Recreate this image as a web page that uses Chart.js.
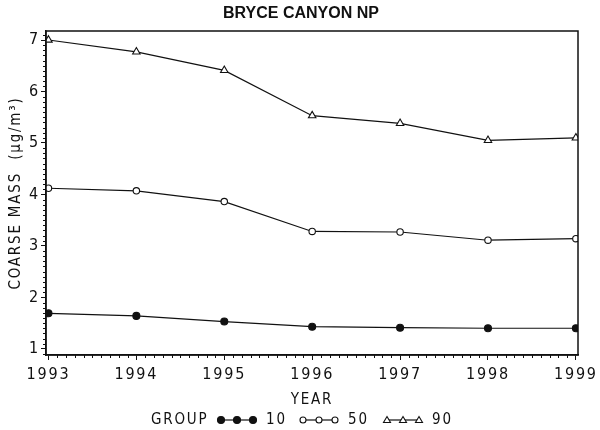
<!DOCTYPE html>
<html><head><meta charset="utf-8">
<script src="https://cdn.jsdelivr.net/npm/chart.js@4"></script>
<style>html,body{margin:0;padding:0;background:#fff}#wrap{width:600px;height:430px;position:relative}</style>
</head><body><div id="wrap"><canvas id="c"></canvas></div>
<script>
const years = [1993, 1994, 1995, 1996, 1997, 1998, 1999];
const group10 = [1.69, 1.64, 1.53, 1.43, 1.41, 1.40, 1.40];
const group50 = [4.12, 4.07, 3.86, 3.28, 3.27, 3.11, 3.14];
const group90 = [7.00, 6.77, 6.41, 5.53, 5.38, 5.05, 5.10];
const yTicks = [1, 2, 3, 4, 5, 6, 7];
const titleText = 'BRYCE CANYON NP';
const xTitle = 'YEAR';
const yTitle = 'COARSE MASS  (µg/m³)';
const legendTitle = 'GROUP';
const groupLabels = ['10', '50', '90'];

const FAM = "'DejaVu Sans Condensed', 'Liberation Sans Narrow', sans-serif";
const INK = '#111';
const SP = '1.8px';

const pts = arr => years.map((y, i) => ({x: y, y: arr[i]}));
const styles = [
  {style: 'circle', fill: INK, r: 3.5},
  {style: 'circle', fill: '#fff', r: 3.2},
  {style: 'triangle', fill: '#fff', r: 4.3}
];
const datasets = [group10, group50, group90].map((arr, i) => ({
  label: groupLabels[i],
  data: pts(arr),
  borderColor: INK,
  borderWidth: 1.2,
  pointStyle: styles[i].style,
  pointRadius: styles[i].r,
  pointBackgroundColor: styles[i].fill,
  pointBorderColor: INK,
  pointBorderWidth: 1.1,
  tension: 0
}));

const spacingPlugin = {
  id: 'spacing',
  beforeDraw(chart) { chart.ctx.letterSpacing = SP; },
  afterDraw(chart) {
    const ctx = chart.ctx;
    const a = chart.chartArea;
    const xs = chart.scales.x, ys = chart.scales.y;
    ctx.save();
    ctx.letterSpacing = '0px';
    ctx.strokeStyle = INK; ctx.lineWidth = 1.5;
    ctx.strokeRect(a.left, a.top, a.right - a.left, a.bottom - a.top);
    ctx.lineWidth = 1;
    ctx.beginPath();
    for (let yr = years[0]; yr < years[years.length - 1]; yr++) {
      for (let k = 1; k < 10; k++) {
        const px = Math.round(xs.getPixelForValue(yr + k / 10)) + 0.5;
        ctx.moveTo(px, a.bottom); ctx.lineTo(px, a.bottom + 3);
      }
    }
    for (let r = 9; r <= 71; r++) {
      if (r % 10 === 0) continue;
      const py = ys.getPixelForValue(r / 10);
      if (py > a.bottom || py < a.top) continue;
      const p = Math.round(py) + 0.5;
      ctx.moveTo(a.left, p); ctx.lineTo(a.left - 3, p);
    }
    ctx.stroke();
    ctx.fillStyle = INK;
    ctx.font = "bold 16px 'Liberation Sans', Arial, sans-serif";
    ctx.textAlign = 'center'; ctx.textBaseline = 'middle';
    ctx.fillText(titleText, 301, 14);
    ctx.letterSpacing = SP;
    ctx.font = '15px ' + FAM;
    ctx.textAlign = 'left';
    const ly = 420;
    ctx.fillText(legendTitle, 151, ly);
    const starts = [221, 303, 387];
    starts.forEach((sx, i) => {
      ctx.strokeStyle = INK; ctx.lineWidth = 1.2;
      ctx.beginPath(); ctx.moveTo(sx, ly); ctx.lineTo(sx + 32, ly); ctx.stroke();
      for (let j = 0; j < 3; j++) {
        const cx = sx + j * 16;
        ctx.lineWidth = 1.1;
        ctx.beginPath();
        if (i === 2) {
          ctx.moveTo(cx, ly - 3.5); ctx.lineTo(cx + 3.5, ly + 2.5); ctx.lineTo(cx - 3.5, ly + 2.5); ctx.closePath();
          ctx.fillStyle = '#fff'; ctx.fill(); ctx.stroke();
        } else {
          ctx.arc(cx, ly, i === 0 ? 3.5 : 3, 0, Math.PI * 2);
          ctx.fillStyle = i === 0 ? INK : '#fff'; ctx.fill(); ctx.stroke();
        }
      }
      ctx.fillStyle = INK;
      ctx.fillText(groupLabels[i], sx + 45, ly);
    });
    ctx.restore();
    ctx.letterSpacing = '0px';
  }
};

new Chart(document.getElementById('c'), {
  type: 'line',
  data: {datasets},
  options: {
    responsive: true, maintainAspectRatio: false, animation: false,
    layout: {padding: {top: 31, right: 22, left: 0, bottom: 0}},
    plugins: {legend: {display: false}, title: {display: false}, tooltip: {enabled: false}},
    scales: {
      x: {
        type: 'linear', min: 1992.972, max: 1999.024,
        afterBuildTicks: s => { s.ticks = years.map(v => ({value: v})); },
        afterFit: s => { s.height = 75; },
        ticks: {color: INK, font: {family: FAM, size: 16}, padding: 5, maxRotation: 0, callback: v => String(v)},
        grid: {drawOnChartArea: false, tickLength: 5, color: INK, tickWidth: 1},
        border: {display: true, color: INK, width: 1.5},
        title: {display: true, text: xTitle, color: INK, font: {family: FAM, size: 15}, padding: {top: 0, bottom: 21}}
      },
      y: {
        type: 'linear', min: 0.88, max: 7.175,
        afterBuildTicks: s => { s.ticks = yTicks.map(v => ({value: v})); },
        afterFit: s => { s.width = 46; },
        ticks: {color: INK, font: {family: FAM, size: 16}, padding: 1, callback: v => String(v)},
        grid: {drawOnChartArea: false, tickLength: 5, color: INK, tickWidth: 1},
        border: {display: true, color: INK, width: 1.5},
        title: {display: true, text: yTitle, color: INK, font: {family: FAM, size: 15}, padding: {top: 7, bottom: 0}}
      }
    }
  },
  plugins: [spacingPlugin]
});
</script>
</body></html>
